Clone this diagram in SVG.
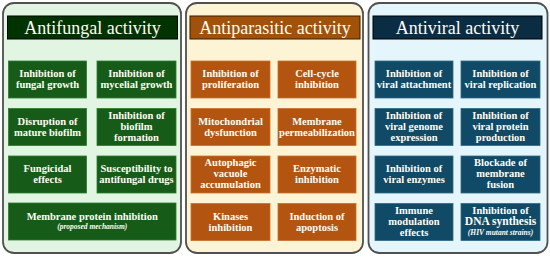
<svg xmlns="http://www.w3.org/2000/svg" width="550" height="257" viewBox="0 0 550 257" font-family="Liberation Serif, serif">
<style>
.panel{stroke:#505050;stroke-width:1.8}
.ttl{font-family:'Liberation Serif',serif;font-size:18px;fill:#fffdf5;text-anchor:middle}
.t{font-family:'Liberation Serif',serif;font-size:10.5px;font-weight:bold;fill:#fffdf5;text-anchor:middle}
.i{font-family:'Liberation Serif',serif;font-size:7.5px;font-weight:bold;font-style:italic;fill:#fffdf5;text-anchor:middle}
.g{fill:#165c18;stroke:#2e7a30;stroke-width:0.8}
.o{fill:#b35410;stroke:#c87030;stroke-width:0.8}
.b{fill:#114a66;stroke:#2f6a86;stroke-width:0.8}
</style>
<rect width="550" height="257" fill="#ffffff"/>
<g id="antifungal">
<rect class="panel" x="3" y="3" width="178" height="250" rx="11" fill="#e2f5e3"/>
<rect x="7.5" y="16" width="170" height="23" fill="#003300" stroke="#000" stroke-width="1"/>
<text class="ttl" x="92.5" y="33.5">Antifungal activity</text>
<g id="af1"><rect class="g" x="8.5" y="61" width="78" height="37"/><text class="t" x="47.5" y="77">Inhibition of</text><text class="t" x="47.5" y="88">fungal growth</text></g>
<g id="af2"><rect class="g" x="97" y="61" width="79" height="37"/><text class="t" x="136.5" y="77">Inhibition of</text><text class="t" x="136.5" y="88">mycelial growth</text></g>
<g id="af3"><rect class="g" x="8.5" y="108.5" width="78" height="37"/><text class="t" x="47.5" y="124.5">Disruption of</text><text class="t" x="47.5" y="135.5">mature biofilm</text></g>
<g id="af4"><rect class="g" x="97" y="108.5" width="79" height="37"/><text class="t" x="136.5" y="118.5">Inhibition of</text><text class="t" x="136.5" y="129.5">biofilm</text><text class="t" x="136.5" y="140.5">formation</text></g>
<g id="af5"><rect class="g" x="8.5" y="156" width="78" height="37"/><text class="t" x="47.5" y="172">Fungicidal</text><text class="t" x="47.5" y="183">effects</text></g>
<g id="af6"><rect class="g" x="97" y="156" width="79" height="37"/><text class="t" x="136.5" y="172">Susceptibility to</text><text class="t" x="136.5" y="183">antifungal drugs</text></g>
<g id="af7"><rect class="g" x="8.5" y="203" width="167.5" height="37"/><text class="t" x="92.25" y="219.5">Membrane protein inhibition</text><text class="i" x="92.25" y="229">(proposed mechanism)</text></g>
</g>
<g id="antiparasitic">
<rect class="panel" x="186" y="3" width="177" height="250" rx="11" fill="#fdf4d6"/>
<rect x="190" y="16" width="170" height="23" fill="#a0520a" stroke="#3a1a00" stroke-width="1"/>
<text class="ttl" x="275" y="33.5">Antiparasitic activity</text>
<g id="ap1"><rect class="o" x="191" y="61" width="79" height="37"/><text class="t" x="230.5" y="77">Inhibition of</text><text class="t" x="230.5" y="88">proliferation</text></g>
<g id="ap2"><rect class="o" x="278" y="61" width="78" height="37"/><text class="t" x="317" y="77">Cell-cycle</text><text class="t" x="317" y="88">inhibition</text></g>
<g id="ap3"><rect class="o" x="191" y="108.5" width="79" height="37"/><text class="t" x="230.5" y="124.5">Mitochondrial</text><text class="t" x="230.5" y="135.5">dysfunction</text></g>
<g id="ap4"><rect class="o" x="278" y="108.5" width="78" height="37"/><text class="t" x="317" y="124.5">Membrane</text><text class="t" x="317" y="135.5">permeabilization</text></g>
<g id="ap5"><rect class="o" x="191" y="156" width="79" height="37"/><text class="t" x="230.5" y="166">Autophagic</text><text class="t" x="230.5" y="177">vacuole</text><text class="t" x="230.5" y="188">accumulation</text></g>
<g id="ap6"><rect class="o" x="278" y="156" width="78" height="37"/><text class="t" x="317" y="172">Enzymatic</text><text class="t" x="317" y="183">inhibition</text></g>
<g id="ap7"><rect class="o" x="191" y="203.5" width="79" height="37"/><text class="t" x="230.5" y="219.5">Kinases</text><text class="t" x="230.5" y="230.5">inhibition</text></g>
<g id="ap8"><rect class="o" x="278" y="203.5" width="78" height="37"/><text class="t" x="317" y="219.5">Induction of</text><text class="t" x="317" y="230.5">apoptosis</text></g>
</g>
<g id="antiviral">
<rect class="panel" x="368.5" y="3" width="179" height="250" rx="11" fill="#e4f5fb"/>
<rect x="373" y="16" width="169" height="23" fill="#0b2d44" stroke="#000" stroke-width="1"/>
<text class="ttl" x="457.5" y="33.5">Antiviral activity</text>
<g id="av1"><rect class="b" x="375" y="61" width="78" height="37"/><text class="t" x="414" y="77">Inhibition of</text><text class="t" x="414" y="88">viral attachment</text></g>
<g id="av2"><rect class="b" x="461" y="61" width="79" height="37"/><text class="t" x="500.5" y="77">Inhibition of</text><text class="t" x="500.5" y="88">viral replication</text></g>
<g id="av3"><rect class="b" x="375" y="108.5" width="78" height="37"/><text class="t" x="414" y="118.5">Inhibition of</text><text class="t" x="414" y="129.5">viral genome</text><text class="t" x="414" y="140.5">expression</text></g>
<g id="av4"><rect class="b" x="461" y="108.5" width="79" height="37"/><text class="t" x="500.5" y="118.5">Inhibition of</text><text class="t" x="500.5" y="129.5">viral protein</text><text class="t" x="500.5" y="140.5">production</text></g>
<g id="av5"><rect class="b" x="375" y="156" width="78" height="37"/><text class="t" x="414" y="172">Inhibition of</text><text class="t" x="414" y="183">viral enzymes</text></g>
<g id="av6"><rect class="b" x="461" y="156" width="79" height="37"/><text class="t" x="500.5" y="166">Blockade of</text><text class="t" x="500.5" y="177">membrane</text><text class="t" x="500.5" y="188">fusion</text></g>
<g id="av7"><rect class="b" x="375" y="203.5" width="78" height="37"/><text class="t" x="414" y="213.5">Immune</text><text class="t" x="414" y="224.5">modulation</text><text class="t" x="414" y="235.5">effects</text></g>
<g id="av8"><rect class="b" x="461" y="203.5" width="79" height="37"/><text class="t" x="500.5" y="214">Inhibition of</text><text class="t" x="500.5" y="225" style="font-size:11.5px">DNA synthesis</text><text class="i" x="500.5" y="234.5">(HIV mutant strains)</text></g>
</g>
<g id="connectors"/>
</svg>
